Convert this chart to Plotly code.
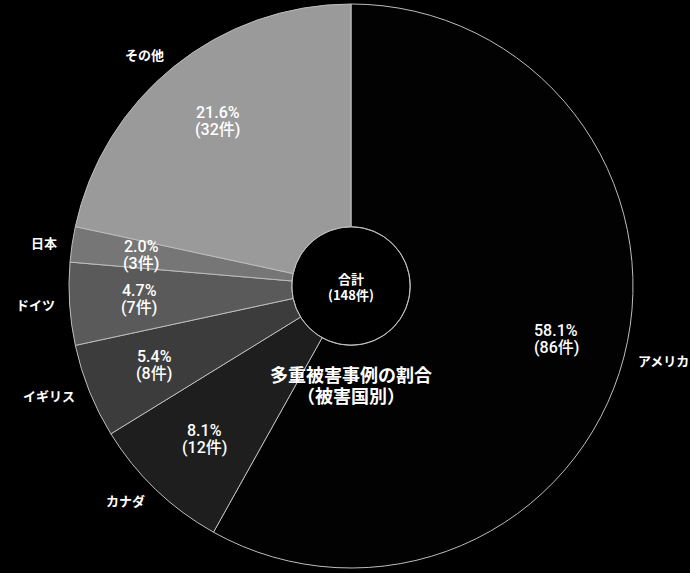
import math
import plotly.graph_objects as go

# data
countries = ['アメリカ', 'カナダ', 'イギリス', 'ドイツ', '日本', 'その他']
cases = [86, 12, 8, 7, 3, 32]
colors = ['#020202', '#1e1e1e', '#3c3c3c', '#5a5a5a', '#767676', '#9a9a9a']
title_lines = ['多重被害事例の割合', '（被害国別）']
total_label = '合計'

FONT = 'Noto Sans CJK JP'
NUM_FONT = 'Roboto, Noto Sans CJK JP'
W, H = 690, 573
CX, CY, R = 351, 286, 282          # pie centre / radius in pixels
hole = 0.21

dom_x = [(CX - R) / W, (CX + R) / W]
dom_y = [1 - (CY + R) / H, 1 - (CY - R) / H]

fig = go.Figure()
fig.add_trace(go.Pie(
    labels=countries, values=cases,
    sort=False, direction='clockwise', rotation=0,
    hole=hole, domain=dict(x=dom_x, y=dom_y),
    marker=dict(colors=colors, line=dict(color='#bdbdbd', width=1)),
    textinfo='none', hoverinfo='skip', showlegend=False,
))


def add_lines(x_px, y_px, lines, gap, font):
    # stacked text lines with a tighter line gap than plotly's <br>
    n = len(lines)
    for i, t in enumerate(lines):
        off = ((n - 1) / 2 - i) * gap
        fig.add_annotation(x=x_px / W, y=1 - y_px / H, xref='paper', yref='paper',
                           xanchor='center', yanchor='middle', yshift=off,
                           showarrow=False, text=t, font=font)


# labels placed along each slice's mid angle
total = sum(cases)
cum = 0
for name, v in zip(countries, cases):
    a = 2 * math.pi * (cum + v / 2) / total
    cum += v
    s, c = math.sin(a), math.cos(a)

    # percentage inside the ring
    px, py = CX + 0.752 * R * s, CY - 0.752 * R * c
    add_lines(px, py, [f'{v / total:.1%}', f'({v}件)'], 17,
              dict(family=NUM_FONT, size=16, color='white', weight=500))

    # country name just outside the edge
    r_out = R + 13
    ox, oy = CX + r_out * s, CY - r_out * c
    xa = 'right' if s < -0.3 else ('left' if s > 0.3 else 'center')
    ya = 'bottom' if c > 0.5 else ('top' if c < -0.5 else 'middle')
    ys = {'bottom': -10, 'top': 10, 'middle': 0}[ya]
    fig.add_annotation(x=ox / W, y=1 - oy / H, xref='paper', yref='paper',
                       showarrow=False, text=name, xanchor=xa, yanchor=ya, yshift=ys,
                       font=dict(family=FONT, size=13, color='white', weight='bold'))

# hole outline
rh = R * hole
fig.add_shape(type='circle', xref='paper', yref='paper',
              x0=(CX - rh) / W, x1=(CX + rh) / W,
              y0=1 - (CY + rh) / H, y1=1 - (CY - rh) / H,
              line=dict(color='#bdbdbd', width=1), fillcolor='rgba(0,0,0,0)')

add_lines(CX, CY, [total_label, f'({total}件)'], 16,
          dict(family=FONT, size=13, color='white', weight='bold'))
add_lines(CX, 384, title_lines, 21,
          dict(family=FONT, size=18, color='white', weight='bold'))

fig.update_layout(
    width=W, height=H,
    margin=dict(l=0, r=0, t=0, b=0),
    paper_bgcolor='#000000', plot_bgcolor='#000000',
)

fig.write_html('out.html', config={'displayModeBar': False},
               post_script="document.body.style.margin='0';"
                           "document.body.style.background='#000';"
                           "document.body.style.overflow='hidden';")
